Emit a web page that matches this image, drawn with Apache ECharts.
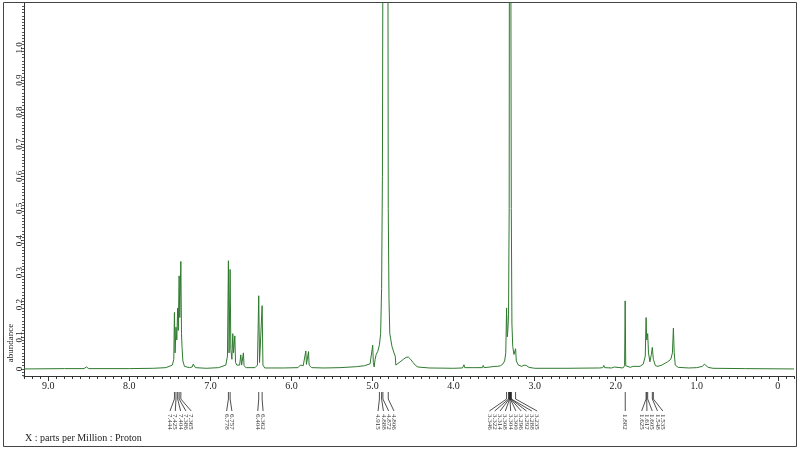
<!DOCTYPE html>
<html>
<head>
<meta charset="utf-8">
<script src="https://cdn.jsdelivr.net/npm/echarts@6/dist/echarts.min.js"></script>
<style>
  html, body { margin: 0; padding: 0; background: #fff; }
  #chart { width: 800px; height: 450px; }
</style>
</head>
<body>
<div id="chart"></div>
<script>
// spectrum trace, [ppm, abundance]
const aromatic = [
  [9.30, 0.000], [8.80, 0.001], [8.56, 0.001], [8.53, 0.006], [8.50, 0.001], [8.00, 0.001], [7.70, 0.002],
  [7.55, 0.004], [7.47, 0.012], [7.452, 0.03], [7.444, 0.176], [7.436, 0.05], [7.425, 0.13], [7.415, 0.09],
  [7.404, 0.19], [7.396, 0.12], [7.386, 0.29], [7.378, 0.16], [7.365, 0.335], [7.357, 0.11], [7.350, 0.067],
  [7.340, 0.025], [7.32, 0.008], [7.26, 0.004],
  [7.225, 0.006], [7.212, 0.015], [7.205, 0.009], [7.196, 0.014], [7.185, 0.004], [7.05, 0.002], [6.90, 0.004],
  [6.81, 0.012], [6.79, 0.04], [6.778, 0.337], [6.770, 0.05], [6.757, 0.31], [6.748, 0.06], [6.735, 0.03],
  [6.724, 0.11], [6.715, 0.05], [6.699, 0.103], [6.690, 0.02], [6.675, 0.012], [6.66, 0.01], [6.64, 0.012],
  [6.625, 0.044], [6.615, 0.012], [6.602, 0.014], [6.593, 0.05], [6.585, 0.01], [6.56, 0.004], [6.45, 0.004],
  [6.42, 0.012], [6.404, 0.228], [6.394, 0.02], [6.375, 0.015], [6.362, 0.197], [6.352, 0.012], [6.33, 0.003]
]
const olefinic = [
  [6.10, 0.003], [5.92, 0.004], [5.89, 0.012], [5.88, 0.008], [5.87, 0.013], [5.855, 0.01], [5.845, 0.014],
  [5.835, 0.01], [5.823, 0.056], [5.815, 0.014], [5.80, 0.016], [5.79, 0.054], [5.782, 0.012], [5.77, 0.008],
  [5.75, 0.004], [5.60, 0.003], [5.40, 0.004], [5.20, 0.007], [5.10, 0.01], [5.03, 0.016]
]
const water = [
  [5.008, 0.022], [4.998, 0.074], [4.990, 0.02], [4.980, 0.006], [4.968, 0.03], [4.955, 0.045], [4.935, 0.055],
  [4.915, 0.075], [4.90, 0.11], [4.888, 0.25], [4.878, 0.6], [4.872, 1.3], [4.85, 2.5], [4.81, 1.3],
  [4.806, 0.5], [4.797, 0.22], [4.787, 0.11], [4.76, 0.07], [4.735, 0.05], [4.72, 0.04], [4.712, 0.012],
  [4.70, 0.014], [4.66, 0.022], [4.62, 0.03], [4.585, 0.036], [4.558, 0.037], [4.53, 0.03], [4.50, 0.02],
  [4.47, 0.011], [4.44, 0.006], [4.30, 0.003]
]
const methanol = [
  [4.00, 0.002], [3.89, 0.003], [3.872, 0.013], [3.862, 0.004], [3.75, 0.004], [3.645, 0.004], [3.634, 0.011],
  [3.624, 0.004], [3.55, 0.006], [3.49, 0.008], [3.472, 0.013], [3.46, 0.008], [3.42, 0.01], [3.39, 0.016],
  [3.37, 0.025], [3.356, 0.05], [3.346, 0.19], [3.338, 0.1], [3.33, 0.12], [3.322, 0.17], [3.314, 0.5],
  [3.306, 3.0], [3.294, 3.0], [3.288, 0.5], [3.280, 0.14], [3.27, 0.07], [3.255, 0.045], [3.244, 0.04],
  [3.235, 0.063], [3.226, 0.025], [3.20, 0.012], [3.16, 0.008], [3.13, 0.012], [3.11, 0.016], [3.098, 0.01],
  [3.07, 0.005], [3.00, 0.002]
]
const aliphatic = [
  [2.60, 0.002], [2.20, 0.003], [2.16, 0.004], [2.146, 0.011], [2.136, 0.004], [2.05, 0.003], [2.018, 0.006],
  [2.00, 0.003], [1.91, 0.003], [1.890, 0.01], [1.883, 0.212], [1.876, 0.01], [1.82, 0.005], [1.784, 0.008],
  [1.76, 0.006], [1.70, 0.008], [1.66, 0.015], [1.635, 0.04], [1.625, 0.16], [1.617, 0.09], [1.605, 0.11],
  [1.595, 0.05], [1.578, 0.022], [1.56, 0.045], [1.548, 0.067], [1.535, 0.03], [1.51, 0.01], [1.48, 0.008],
  [1.43, 0.012], [1.39, 0.018], [1.36, 0.022], [1.32, 0.03], [1.30, 0.05], [1.288, 0.127], [1.278, 0.05],
  [1.265, 0.012], [1.23, 0.005], [1.10, 0.003], [1.00, 0.004], [0.93, 0.008], [0.905, 0.015], [0.89, 0.013],
  [0.86, 0.005], [0.80, 0.002], [0.40, 0.001], [-0.20, 0.000]
]

// picked peaks, labelled under the axis
const aromaticPicks = [7.444, 7.425, 7.404, 7.386, 7.365]
const ringPicks = [6.778, 6.757]
const vinylPicks = [6.404, 6.362]
const waterPicks = [4.915, 4.888, 4.872, 4.806]
const methanolPicks = [3.346, 3.322, 3.314, 3.308, 3.304, 3.300, 3.296, 3.292, 3.288, 3.235]
const singletPicks = [1.882]
const alkylPicks = [1.625, 1.617, 1.605, 1.548, 1.535]

// ticks
const xMajor = [0, 1, 2, 3, 4, 5, 6, 7, 8, 9]
const xLabels = ['0', '1.0', '2.0', '3.0', '4.0', '5.0', '6.0', '7.0', '8.0', '9.0']
const yMajor = [0, 0.1, 0.2, 0.3, 0.4, 0.5, 0.6, 0.7, 0.8, 0.9, 1.0]
const yLabels = ['0', '0.1', '0.2', '0.3', '0.4', '0.5', '0.6', '0.7', '0.8', '0.9', '1.0']

const X_MIN = -0.2, X_MAX = 9.3
const Y_MIN = -0.022, Y_MAX = 1.14
const FONT = '"Liberation Serif", "Times New Roman", serif'
const INK = '#333'

const xMinor = []
for (let i = -2; i <= 93; i++) xMinor.push(i / 10)
const yMinor = []
for (let i = -2; i <= 113; i++) yMinor.push(i / 100)

const box = { left: 24, right: 6, top: 3, bottom: 74 }
const trace = [].concat(aromatic, olefinic, water, methanol, aliphatic)

const chart = echarts.init(document.getElementById('chart'))

chart.setOption({
  animation: false,
  grid: [Object.assign({}, box), Object.assign({}, box)],
  xAxis: [{
    gridIndex: 0,
    type: 'value',
    inverse: true,
    min: X_MIN,
    max: X_MAX,
    axisLine: { show: true, onZero: false, lineStyle: { color: INK, width: 1 } },
    axisTick: { show: true, customValues: xMajor, length: 5, lineStyle: { color: INK } },
    axisLabel: {
      customValues: xMajor,
      formatter: v => xLabels[xMajor.indexOf(Math.round(v))],
      fontFamily: FONT,
      fontSize: 10,
      color: '#222',
      margin: 5
    },
    splitLine: { show: false }
  }, {
    gridIndex: 1,
    type: 'value',
    inverse: true,
    min: X_MIN,
    max: X_MAX,
    axisLine: { show: false, onZero: false },
    axisTick: { show: true, customValues: xMinor, length: 3, lineStyle: { color: INK } },
    axisLabel: { show: false },
    splitLine: { show: false }
  }],
  yAxis: [{
    gridIndex: 0,
    type: 'value',
    min: Y_MIN,
    max: Y_MAX,
    axisLine: { show: true, onZero: false, lineStyle: { color: INK, width: 1 } },
    axisTick: { show: true, customValues: yMajor, length: 3, lineStyle: { color: INK } },
    axisLabel: {
      customValues: yMajor,
      rotate: 90,
      formatter: v => yLabels[Math.round(v * 10)],
      fontFamily: FONT,
      fontSize: 9,
      color: '#222',
      margin: 0
    },
    splitLine: { show: false }
  }, {
    gridIndex: 1,
    type: 'value',
    min: Y_MIN,
    max: Y_MAX,
    axisLine: { show: false, onZero: false },
    axisTick: { show: true, customValues: yMinor, length: 2, lineStyle: { color: '#555' } },
    axisLabel: { show: false },
    splitLine: { show: false }
  }],
  series: [{
    type: 'line',
    xAxisIndex: 0,
    yAxisIndex: 0,
    data: trace,
    showSymbol: false,
    symbol: 'none',
    clip: true,
    lineStyle: { color: '#2f7a2f', width: 1 }
  }]
})

// peak pick labels: fan lines from the peak position down to rotated text
const groups = [aromaticPicks, ringPicks, vinylPicks, waterPicks, methanolPicks, singletPicks, alkylPicks]
const graphics = [{
  type: 'rect',
  shape: { x: 3.5, y: 2.5, width: 793, height: 444 },
  style: { fill: null, stroke: '#444', lineWidth: 1 },
  silent: true
}, {
  type: 'text',
  x: 11,
  y: 343,
  rotation: Math.PI / 2,
  style: { text: 'abundance', font: '9px ' + FONT, fill: '#222', align: 'center', verticalAlign: 'middle' },
  silent: true
}, {
  type: 'text',
  x: 25,
  y: 438,
  style: { text: 'X : parts per Million : Proton', font: '10px ' + FONT, fill: '#222', align: 'left', verticalAlign: 'middle' },
  silent: true
}]

groups.forEach(g => {
  const xs = g.map(p => chart.convertToPixel({ xAxisIndex: 0 }, p))
  const mid = xs.reduce((a, b) => a + b, 0) / xs.length + (g.length > 2 ? 3 : 0)
  g.forEach((p, i) => {
    const lx = mid + (i - (g.length - 1) / 2) * 5.3
    graphics.push({
      type: 'polyline',
      shape: { points: [[xs[i], 392], [xs[i], 399], [lx, 411]] },
      style: { stroke: '#222', fill: null, lineWidth: 0.8 },
      silent: true
    })
    graphics.push({
      type: 'text',
      x: lx,
      y: 414,
      rotation: -Math.PI / 2,
      style: { text: p.toFixed(3), font: '7px ' + FONT, fill: INK, align: 'left', verticalAlign: 'middle' },
      silent: true
    })
  })
})

chart.setOption({ graphic: graphics })
</script>
</body>
</html>
